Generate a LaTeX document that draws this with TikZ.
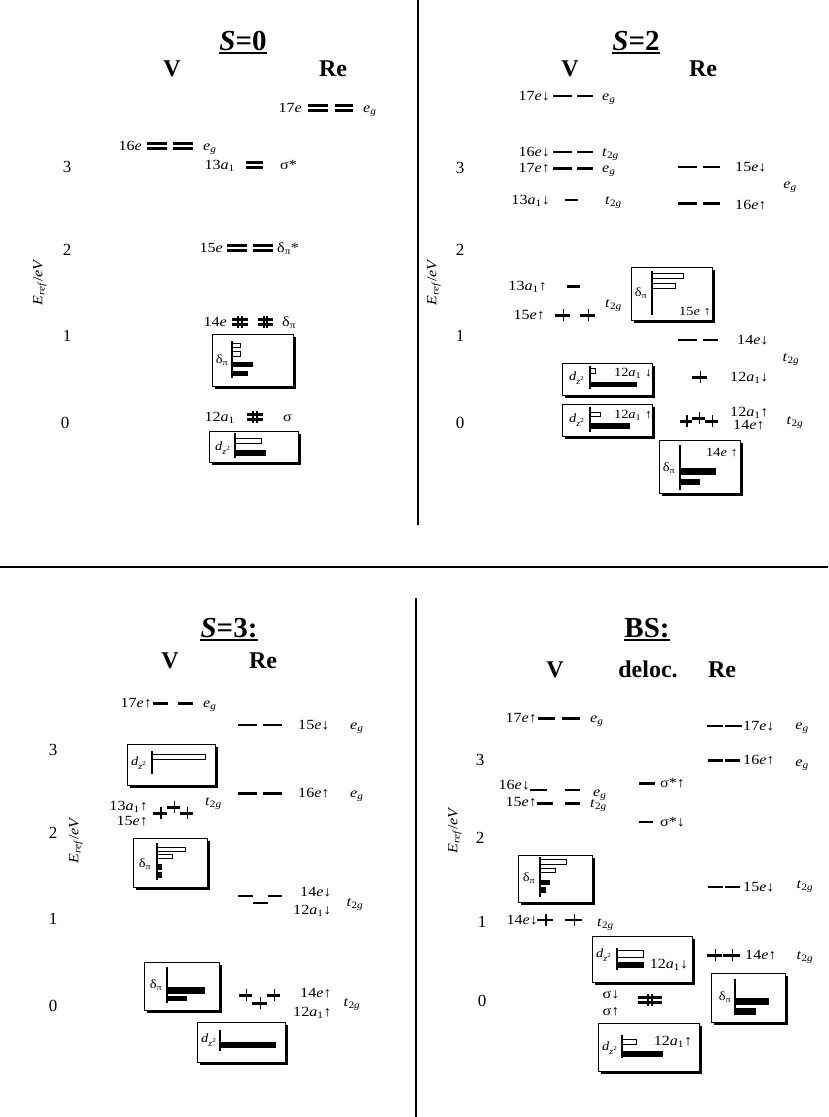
\documentclass[tikz,border=0pt]{standalone}
\usepackage{fontspec}
\setmainfont{Liberation Serif}
\newfontfamily\lvlfont[FakeStretch=1.15]{Liberation Serif}

% label shorthands
\newcommand{\Ee}{\textit{e}}
\newcommand{\Eg}{\textit{e}\textsubscript{\textit{g}}}
\newcommand{\Ttg}{\textit{t}\textsubscript{2\textit{g}}}
\newcommand{\Dpi}{δ\textsubscript{π}}
\newcommand{\Dzz}{\textit{d}\textsubscript{\textit{z}\textsuperscript{2}}}
\newcommand{\Aone}{\textit{a}\textsubscript{1}}
\newcommand{\Eref}{\textit{E}\textsubscript{\textit{ref}}/\textit{eV}}

% level marks: {x1}{x2}{y}
\newcommand{\emptylev}[3]{\draw[emptybar] (#1,#3) -- (#2,#3);}
\newcommand{\fulllev}[3]{\draw[fullbar] (#1,#3) -- (#2,#3);}
\newcommand{\spinlev}[4][fullbar]{\draw[#1] (#2,#4) -- (#3,#4);
  \draw[spintick] ({(#2+#3)/2+1},{#4-6}) -- ({(#2+#3)/2+1},{#4+6});}
\newcommand{\duallev}[3]{\draw[dblbar] (#1,{#3-2.5}) -- (#2,{#3-2.5}) (#1,{#3+2.5}) -- (#2,{#3+2.5});}
\newcommand{\pairlev}[3]{\duallev{#1}{#2}{#3}
  \draw[spintick] ({(#1+#2)/2-1.8},{#3-6}) -- ({(#1+#2)/2-1.8},{#3+6})
                  ({(#1+#2)/2+1.8},{#3-6}) -- ({(#1+#2)/2+1.8},{#3+6});}
% framed orbital panel: {x1}{y1}{x2}{y2}
\newcommand{\orbpanel}[4]{\fill ({#1+2.5},{#2+2.5}) rectangle ({#3+2.5},{#4+2.5});
  \draw[fill=white, line width=0.9pt] (#1,#2) rectangle (#3,#4);}

\begin{document}
\begin{tikzpicture}[x=1pt, y=-1pt,
    lvl/.style={font=\lvlfont\fontsize{14}{16}\selectfont, inner sep=0pt},
    inbox/.style={font=\lvlfont\fontsize{12.5}{14}\selectfont, inner sep=0pt},
    num/.style={font=\fontsize{17}{19}\selectfont, inner sep=0pt},
    head/.style={font=\fontsize{24}{26}\selectfont\bfseries, anchor=base, inner sep=0pt},
    ttl/.style={font=\fontsize{29}{31}\selectfont\bfseries, anchor=base, inner sep=0pt},
    uline/.style={line width=2pt},
    emptybar/.style={line width=1.4pt},
    fullbar/.style={line width=3pt},
    dblbar/.style={line width=2.6pt},
    spintick/.style={line width=1.7pt},
    openbar/.style={draw, fill=white, line width=0.7pt},
    filledbar/.style={draw, fill=black, line width=0.7pt},
    barax/.style={line width=1.2pt}]
    \useasboundingbox (0,0) rectangle (828,1117);

    % dividers
    \draw[line width=1.2pt] (418,0) -- (418,525);
    \draw[line width=2.8pt] (0,567) -- (828,567);
    \draw[line width=1.2pt] (416,598) -- (416,1117);

    % ===== S=0 =====
    \node[ttl] (t0) at (243,50) {\textit{S}=0};
    \draw[uline] ([yshift=-3pt]t0.base west) -- ([yshift=-3pt]t0.base east);
    \node[head] (v0) at (172,76) {V};
    \node[head] (re0) at (333,76) {Re};
    \node[lvl, rotate=90] (ax0) at (40,282) {\Eref};
    \node[num] (n03) at (67,167) {3};
    \node[num] (n02) at (67,250) {2};
    \node[num] (n01) at (67,336) {1};
    \node[num] (n00) at (65,423) {0};

    \node[lvl, anchor=mid east] (a17e) at (302,110) {17\Ee};
    \duallev{308}{328}{108} \duallev{335}{353}{108}
    \node[lvl, anchor=mid west] (a17g) at (363,110) {\Eg};

    \node[lvl, anchor=mid east] (a16e) at (142,148) {16\Ee};
    \duallev{147}{167}{146} \duallev{173}{193}{146}
    \node[lvl, anchor=mid west] (a16g) at (203,148) {\Eg};

    \node[lvl, anchor=mid east] (a13a) at (235,167) {13\Aone};
    \duallev{246}{263}{165}
    \node[lvl, anchor=mid west] (a13s) at (280,167) {σ*};

    \node[lvl, anchor=mid east] (a15e) at (223,250) {15\Ee};
    \duallev{227}{247}{248} \duallev{253}{273}{248}
    \node[lvl, anchor=mid west] (a15d) at (277,250) {δ\textsubscript{π}*};

    \node[lvl, anchor=mid east] (a14e) at (227,324) {14\Ee};
    \pairlev{232}{248}{322} \pairlev{258}{273}{322}
    \node[lvl, anchor=mid west] (a14d) at (282,324) {\Dpi};

    \node[lvl, anchor=mid east] (a12a) at (235,419) {12\Aone};
    \pairlev{247}{263}{417}
    \node[lvl, anchor=mid west] (a12s) at (283,419) {σ};

    % S=0 panels
    \orbpanel{212}{334}{293}{386}
    \node[inbox] (p0a) at (222,360) {\Dpi};
    \draw[openbar] (232,343) rectangle (240,347);
    \draw[openbar] (232,351) rectangle (240,356);
    \draw[filledbar] (232,362) rectangle (252,366);
    \draw[filledbar] (232,371) rectangle (247,375);
    \draw[barax] (232,341) -- (232,378);

    \orbpanel{209}{431}{298}{462}
    \node[inbox] (p0b) at (223,448) {\Dzz};
    \draw[openbar] (235,438) rectangle (261,443);
    \draw[filledbar] (235,450) rectangle (265,455);
    \draw[barax] (235,433) -- (235,458);

    % ===== S=2 =====
    \node[ttl] (t2) at (636,50) {\textit{S}=2};
    \draw[uline] ([yshift=-3pt]t2.base west) -- ([yshift=-3pt]t2.base east);
    \node[head] (v2) at (570,76) {V};
    \node[head] (re2) at (703,76) {Re};
    \node[lvl, rotate=90] (ax2) at (434,282) {\Eref};
    \node[num] (n23) at (460,168) {3};
    \node[num] (n22) at (460,250) {2};
    \node[num] (n21) at (460,336) {1};
    \node[num] (n20) at (460,423) {0};

    \node[lvl, anchor=mid east] (b17d) at (550,98) {17\Ee↓};
    \emptylev{553}{572}{96} \emptylev{577}{593}{96}
    \node[lvl, anchor=mid west] (b17g) at (602,98) {\Eg};

    \node[lvl, anchor=mid east] (b16d) at (550,154) {16\Ee↓};
    \emptylev{553}{572}{152} \emptylev{577}{593}{152}
    \node[lvl, anchor=mid west] (b16t) at (602,154) {\Ttg};

    \node[lvl, anchor=mid east] (b17u) at (550,170) {17\Ee↑};
    \fulllev{553}{572}{168} \fulllev{577}{593}{168}
    \node[lvl, anchor=mid west] (b17ug) at (602,170) {\Eg};

    \node[lvl, anchor=mid east] (b13d) at (550,202) {13\Aone↓};
    \emptylev{565}{578}{200}
    \node[lvl, anchor=mid west] (b13t) at (605,202) {\Ttg};

    \emptylev{678}{697}{167} \emptylev{703}{720}{167}
    \node[lvl, anchor=mid west] (b15d) at (735,169) {15\Ee↓};
    \fulllev{678}{697}{203} \fulllev{703}{720}{203}
    \node[lvl, anchor=mid west] (b16u) at (735,207) {16\Ee↑};
    \node[lvl] (b16g) at (790,187) {\Eg};

    \node[lvl, anchor=mid east] (b13u) at (547,288) {13\Aone↑};
    \fulllev{567}{580}{286}
    \node[lvl, anchor=mid east] (b15u) at (545,317) {15\Ee↑};
    \spinlev{555}{570}{315} \spinlev{580}{595}{315}
    \node[lvl, anchor=mid west] (b15t) at (605,305) {\Ttg};

    \emptylev{678}{697}{340} \emptylev{703}{718}{340}
    \node[lvl, anchor=mid west] (b14d) at (737,342) {14\Ee↓};
    \node[lvl] (b14t) at (791,360) {\Ttg};

    \spinlev{692}{707}{377}
    \node[lvl, anchor=mid west] (b12d) at (730,379) {12\Aone↓};

    \spinlev{680}{692}{421} \spinlev{692}{705}{418} \spinlev{705}{718}{421}
    \node[lvl, anchor=mid west] (b12u) at (730,414) {12\Aone↑};
    \node[lvl, anchor=mid west] (b14u) at (733,427) {14\Ee↑};
    \node[lvl] (b14ut) at (795,423) {\Ttg};

    % S=2 panels
    \orbpanel{631}{267}{712}{320}
    \node[inbox] (p2a) at (641,293) {\Dpi};
    \draw[openbar] (652,273) rectangle (683,278);
    \draw[openbar] (652,283) rectangle (675,288);
    \draw[barax] (652,271) -- (652,315);
    \node[inbox] (p2al) at (695,312) {15\Ee\ ↑};

    \orbpanel{562}{363}{652}{395}
    \node[inbox] (p2b) at (577,378) {\Dzz};
    \draw[openbar] (590,368) rectangle (595,373);
    \draw[filledbar] (590,382) rectangle (636,386);
    \draw[barax] (590,366) -- (590,389);
    \node[inbox] (p2bl) at (633,373) {12\Aone\ ↓};

    \orbpanel{562}{404}{652}{436}
    \node[inbox] (p2c) at (577,420) {\Dzz};
    \draw[openbar] (590,412) rectangle (600,416);
    \draw[filledbar] (590,423) rectangle (629,428);
    \draw[barax] (590,407) -- (590,432);
    \node[inbox] (p2cl) at (633,415) {12\Aone\ ↑};

    \orbpanel{659}{440}{740}{493}
    \node[inbox] (p2d) at (669,468) {\Dpi};
    \draw[filledbar] (680,468) rectangle (715,474);
    \draw[filledbar] (680,479) rectangle (699,484);
    \draw[barax] (680,445) -- (680,490);
    \node[inbox] (p2dl) at (722,453) {14\Ee\ ↑};

    % ===== S=3 =====
    \node[ttl] (t3) at (229,637) {\textit{S}=3:};
    \draw[uline] ([yshift=-3pt]t3.base west) -- ([yshift=-3pt]t3.base east);
    \node[head] (v3) at (170,668) {V};
    \node[head] (re3) at (263,668) {Re};
    \node[lvl, rotate=90] (ax3) at (76,840) {\Eref};
    \node[num] (n33) at (53,750) {3};
    \node[num] (n32) at (53,833) {2};
    \node[num] (n31) at (53,919) {1};
    \node[num] (n30) at (53,1006) {0};

    \node[lvl, anchor=mid east] (c17u) at (152,705) {17\Ee↑};
    \fulllev{153}{168}{703} \fulllev{178}{193}{703}
    \node[lvl, anchor=mid west] (c17g) at (203,705) {\Eg};

    \emptylev{238}{257}{725} \emptylev{263}{282}{725}
    \node[lvl, anchor=mid west] (c15d) at (298,727) {15\Ee↓};
    \node[lvl, anchor=mid west] (c15g) at (350,727) {\Eg};

    \fulllev{238}{257}{793} \fulllev{263}{282}{793}
    \node[lvl, anchor=mid west] (c16u) at (298,795) {16\Ee↑};
    \node[lvl, anchor=mid west] (c16g) at (350,795) {\Eg};

    \node[lvl, anchor=mid east] (c13u) at (148,808) {13\Aone↑};
    \node[lvl, anchor=mid east] (c15u) at (148,823) {15\Ee↑};
    \spinlev{153}{167}{813} \spinlev{167}{180}{807} \spinlev{180}{193}{813}
    \node[lvl, anchor=mid west] (c13t) at (205,803) {\Ttg};

    \emptylev{238}{253}{896} \emptylev{253}{268}{903} \emptylev{268}{282}{896}
    \node[lvl, anchor=mid west] (c14d) at (300,894) {14\Ee↓};
    \node[lvl, anchor=mid west] (c12d) at (293,912) {12\Aone↓};
    \node[lvl] (c14t) at (355,905) {\Ttg};

    \spinlev{239}{252}{995} \spinlev{252}{267}{1003} \spinlev{267}{280}{995}
    \node[lvl, anchor=mid west] (c14u) at (300,995) {14\Ee↑};
    \node[lvl, anchor=mid west] (c12u) at (293,1014) {12\Aone↑};
    \node[lvl] (c14ut) at (352,1005) {\Ttg};

    % S=3 panels
    \orbpanel{127}{744}{215}{785}
    \node[inbox] (p3a) at (139,763) {\Dzz};
    \draw[openbar] (152,754) rectangle (205,759);
    \draw[barax] (152,751) -- (152,774);

    \orbpanel{133}{838}{207}{887}
    \node[inbox] (p3b) at (145,864) {\Dpi};
    \draw[openbar] (157,847) rectangle (185,851);
    \draw[openbar] (157,854) rectangle (172,858);
    \draw[filledbar] (157,864) rectangle (161,869);
    \draw[filledbar] (157,872) rectangle (161,877);
    \draw[barax] (157,843) -- (157,880);

    \orbpanel{144}{962}{219}{1010}
    \node[inbox] (p3c) at (156,985) {\Dpi};
    \draw[filledbar] (167,987) rectangle (204,993);
    \draw[filledbar] (167,996) rectangle (186,1000);
    \draw[barax] (167,967) -- (167,1003);

    \orbpanel{197}{1022}{285}{1062}
    \node[inbox] (p3d) at (209,1040) {\Dzz};
    \draw[filledbar] (220,1042) rectangle (275,1047);
    \draw[barax] (220,1030) -- (220,1051);

    % ===== BS =====
    \node[ttl] (tb) at (647,637) {BS:};
    \draw[uline] ([yshift=-3pt]tb.base west) -- ([yshift=-3pt]tb.base east);
    \node[head] (vb) at (555,677) {V};
    \node[head] (db) at (648,677) {deloc.};
    \node[head] (reb) at (722,677) {Re};
    \node[lvl, rotate=90] (axb) at (455,830) {\Eref};
    \node[num] (nb3) at (480,760) {3};
    \node[num] (nb2) at (480,838) {2};
    \node[num] (nb1) at (482,922) {1};
    \node[num] (nb0) at (482,1001) {0};

    \node[lvl, anchor=mid east] (d17u) at (537,720) {17\Ee↑};
    \fulllev{538}{555}{718} \fulllev{562}{580}{718}
    \node[lvl, anchor=mid west] (d17g) at (590,720) {\Eg};

    \emptylev{707}{723}{726} \emptylev{725}{742}{726}
    \node[lvl, anchor=mid west] (d17d) at (743,728) {17\Ee↓};
    \node[lvl] (d17dg) at (802,728) {\Eg};

    \fulllev{708}{723}{760} \fulllev{725}{740}{760}
    \node[lvl, anchor=mid west] (d16u) at (743,762) {16\Ee↑};
    \node[lvl] (d16ug) at (802,765) {\Eg};

    \fulllev{639}{655}{783}
    \node[lvl, anchor=mid west] (dsu) at (660,785) {σ*↑};
    \emptylev{639}{653}{822}
    \node[lvl, anchor=mid west] (dsd) at (660,824) {σ*↓};

    \node[lvl, anchor=mid east] (d16d) at (530,787) {16\Ee↓};
    \emptylev{530}{547}{790} \emptylev{565}{580}{790}
    \node[lvl, anchor=mid west] (d16g) at (593,794) {\Eg};

    \node[lvl, anchor=mid east] (d15u) at (537,804) {15\Ee↑};
    \fulllev{537}{553}{803} \fulllev{565}{580}{803}
    \node[lvl, anchor=mid west] (d15t) at (590,805) {\Ttg};

    \emptylev{708}{723}{887} \emptylev{725}{740}{887}
    \node[lvl, anchor=mid west] (d15d) at (743,889) {15\Ee↓};
    \node[lvl] (d15dt) at (805,887) {\Ttg};

    \node[lvl, anchor=mid east] (d14d) at (538,922) {14\Ee↓};
    \spinlev[emptybar]{537}{553}{920} \spinlev[emptybar]{565}{582}{920}
    \node[lvl, anchor=mid west] (d14t) at (597,924) {\Ttg};

    \spinlev{707}{722}{955} \spinlev{723}{740}{955}
    \node[lvl, anchor=mid west] (d14u) at (745,957) {14\Ee↑};
    \node[lvl] (d14ut) at (805,958) {\Ttg};

    \node[lvl] (dsgd) at (611,995) {σ↓};
    \node[lvl] (dsgu) at (611,1012) {σ↑};
    \pairlev{638}{662}{1000}

    % BS panels
    \orbpanel{518}{855}{592}{902}
    \node[inbox] (pba) at (529,878) {\Dpi};
    \draw[openbar] (540,859) rectangle (566,864);
    \draw[openbar] (540,868) rectangle (555,872);
    \draw[filledbar] (540,880) rectangle (549,884);
    \draw[filledbar] (540,887) rectangle (545,892);
    \draw[barax] (540,857) -- (540,897);

    \orbpanel{592}{936}{692}{982}
    \node[inbox] (pbb) at (604,955) {\Dzz};
    \draw[openbar] (617,950) rectangle (643,957);
    \draw[filledbar] (617,962) rectangle (643,967);
    \draw[barax] (617,948) -- (617,970);
    \node[lvl] (pbbl) at (669,965) {12\Aone↓};

    \orbpanel{711}{973}{785}{1022}
    \node[inbox] (pbc) at (725,997) {\Dpi};
    \draw[filledbar] (735,998) rectangle (768,1004);
    \draw[filledbar] (735,1008) rectangle (755,1014);
    \draw[barax] (735,979) -- (735,1015);

    \orbpanel{598}{1023}{699}{1071}
    \node[inbox] (pbd) at (610,1048) {\Dzz};
    \draw[openbar] (622,1039) rectangle (636,1044);
    \draw[filledbar] (622,1051) rectangle (662,1056);
    \draw[barax] (622,1035) -- (622,1058);
    \node[lvl] (pbdl) at (673,1042) {12\Aone↑};
\end{tikzpicture}
\end{document}
